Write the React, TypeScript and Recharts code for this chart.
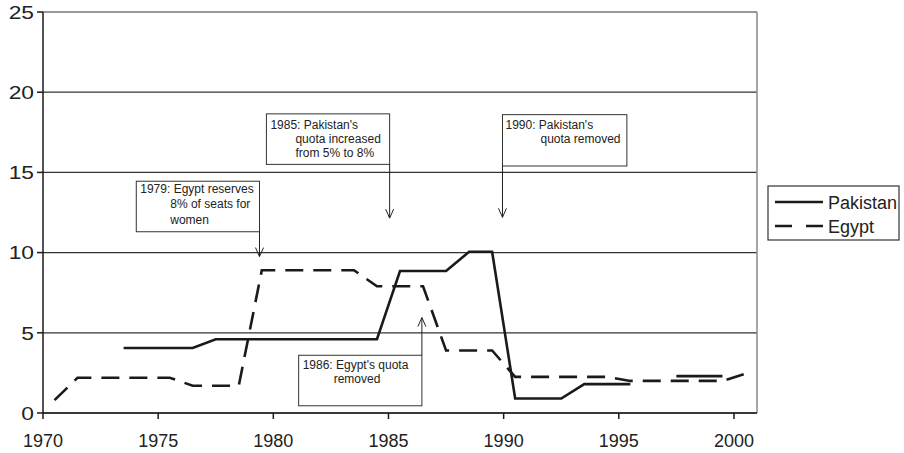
import React from "react";
import { LineChart, Line, XAxis, YAxis, CartesianGrid, ReferenceLine } from "recharts";

const years = [
  1970, 1971, 1972, 1973, 1974, 1975, 1976, 1977, 1978, 1979,
  1980, 1981, 1982, 1983, 1984, 1985, 1986, 1987, 1988, 1989,
  1990, 1991, 1992, 1993, 1994, 1995, 1996, 1997, 1998, 1999, 2000,
];
const pakistan: (number | null)[] = [
  null, null, null, 4.05, 4.05, 4.05, 4.05, 4.6, 4.6, 4.6,
  4.6, 4.6, 4.6, 4.6, 4.6, 8.85, 8.85, 8.85, 10.05, 10.05,
  0.9, 0.9, 0.9, 1.8, 1.8, 1.8, null, 2.3, 2.3, 2.3, null,
];
const egypt: (number | null)[] = [
  0.8, 2.2, 2.2, 2.2, 2.2, 2.2, 1.7, 1.7, 1.7, 8.9,
  8.9, 8.9, 8.9, 8.9, 7.9, 7.9, 7.9, 3.9, 3.9, 3.9,
  2.25, 2.25, 2.25, 2.25, 2.25, 2.0, 2.0, 2.0, 2.0, 2.0, 2.45,
];
const xTicks = [1970, 1975, 1980, 1985, 1990, 1995, 2000];
const yTicks = [0, 5, 10, 15, 20, 25];
const seriesNames = ["Pakistan", "Egypt"];

type Annotation = {
  lines: string[];
  indents: number[];
  baselines: number[];
  x1: number; x2: number; yTop: number; yBot: number;
  arrowX: number; arrowFrom: number; arrowTo: number;
};
const annotations: Annotation[] = [
  {
    lines: ["1979: Egypt reserves", "8% of seats for", "women"],
    indents: [4, 34, 34], baselines: [12, 27, 43],
    x1: 1974.05, x2: 1979.4, yTop: 14.45, yBot: 11.3,
    arrowX: 1979.4, arrowFrom: 11.3, arrowTo: 9.75,
  },
  {
    lines: ["1985: Pakistan's", "quota increased", "from 5% to 8%"],
    indents: [4, 29, 29], baselines: [15, 29, 43],
    x1: 1979.7, x2: 1985.05, yTop: 18.65, yBot: 15.5,
    arrowX: 1985.05, arrowFrom: 15.5, arrowTo: 12.15,
  },
  {
    lines: ["1990: Pakistan's", "quota removed"],
    indents: [3, 38], baselines: [14, 28],
    x1: 1989.95, x2: 1995.35, yTop: 18.6, yBot: 15.4,
    arrowX: 1989.95, arrowFrom: 15.4, arrowTo: 12.2,
  },
  {
    lines: ["1986: Egypt's quota", "removed"],
    indents: [4, 35], baselines: [13.5, 27.5],
    x1: 1981.1, x2: 1986.45, yTop: 3.6, yBot: 0.45,
    arrowX: 1986.45, arrowFrom: 3.6, arrowTo: 5.95,
  },
];

const data = years.map((y, i) => ({
  x: y + 0.5,
  Pakistan: pakistan[i],
  Egypt: egypt[i],
}));

const W = 904;
const H = 453;
const MARGIN = { top: 12, right: 147, bottom: 0, left: 0 };
const Y_W = 43;
const X_H = 40;
const X_DOMAIN: [number, number] = [1970, 2001];
const Y_DOMAIN: [number, number] = [0, 25];
const PL = MARGIN.left + Y_W;
const PT = MARGIN.top;
const PW = W - MARGIN.right - PL;
const PH = H - MARGIN.bottom - X_H - PT;
const px = (v: number) => PL + ((v - X_DOMAIN[0]) / (X_DOMAIN[1] - X_DOMAIN[0])) * PW;
const py = (v: number) => PT + ((Y_DOMAIN[1] - v) / (Y_DOMAIN[1] - Y_DOMAIN[0])) * PH;

const FONT = "'Liberation Sans', Arial, sans-serif";
const INK = "#1a1a1a";

const YTick = (props: any) => {
  const { x, y, payload } = props;
  return (
    <g transform={`translate(${x},${y})`}>
      <text transform="scale(1.2,1)" textAnchor="end" dy="0.36em" fontSize={19} fill="#222" fontFamily={FONT}>
        {payload.value}
      </text>
    </g>
  );
};

const Arrow = ({ x, y1, y2 }: { x: number; y1: number; y2: number }) => {
  const dir = y2 > y1 ? 1 : -1;
  return (
    <g stroke="#222" strokeWidth={1} fill="none">
      <line x1={x} y1={y1} x2={x} y2={y2} />
      <polyline points={`${x - 4},${y2 - dir * 9} ${x},${y2} ${x + 4},${y2 - dir * 9}`} />
    </g>
  );
};

export default function App() {
  return (
    <div style={{ position: "absolute", left: 0, top: 0, width: W, height: H, background: "#fff" }}>
      <LineChart width={W} height={H} data={data} margin={MARGIN}>
        <CartesianGrid horizontal vertical={false} stroke="#333" strokeWidth={1.2} />
        <XAxis
          dataKey="x"
          type="number"
          domain={X_DOMAIN}
          ticks={xTicks}
          allowDataOverflow
          height={X_H}
          tickSize={6}
          tickMargin={15}
          stroke={INK}
          strokeWidth={1.5}
          tick={{ fontSize: 18, fill: "#222", fontFamily: FONT }}
        />
        <YAxis
          type="number"
          domain={Y_DOMAIN}
          ticks={yTicks}
          width={Y_W}
          tickSize={6}
          tickMargin={3}
          stroke={INK}
          strokeWidth={1.5}
          tick={<YTick />}
        />
        <ReferenceLine x={2001} stroke="#888" strokeWidth={1.5} ifOverflow="visible" />
        <Line
          type="linear"
          dataKey="Pakistan"
          name={seriesNames[0]}
          stroke={INK}
          strokeWidth={2.6}
          dot={false}
          connectNulls={false}
          isAnimationActive={false}
        />
        <Line
          type="linear"
          dataKey="Egypt"
          name={seriesNames[1]}
          stroke={INK}
          strokeWidth={2.6}
          strokeDasharray="18 10"
          dot={false}
          connectNulls={false}
          isAnimationActive={false}
        />
      </LineChart>
      <svg
        width={W}
        height={H}
        style={{ position: "absolute", left: 0, top: 0, pointerEvents: "none" }}
        fontFamily={FONT}
      >
        {annotations.map((a, i) => {
          const bx = px(a.x1);
          const by = py(a.yTop);
          const bw = px(a.x2) - bx;
          const bh = py(a.yBot) - by;
          return (
            <g key={i}>
              <rect x={bx} y={by} width={bw} height={bh} fill="#fff" stroke="#333" strokeWidth={1} />
              {a.lines.map((t, j) => (
                <text key={j} x={bx + a.indents[j]} y={by + a.baselines[j]} fontSize={12} fill="#222">
                  {t}
                </text>
              ))}
              <Arrow x={px(a.arrowX)} y1={py(a.arrowFrom)} y2={py(a.arrowTo)} />
            </g>
          );
        })}
        <g>
          <rect x={768} y={186} width={131} height={54} fill="#fff" stroke="#333" strokeWidth={1.2} />
          <line x1={775} y1={202} x2={823} y2={202} stroke={INK} strokeWidth={2.6} />
          <text x={828} y={209} fontSize={18} fill="#222">{seriesNames[0]}</text>
          <line x1={775} y1={226} x2={823} y2={226} stroke={INK} strokeWidth={2.6} strokeDasharray="17 14" />
          <text x={828} y={233} fontSize={18} fill="#222">{seriesNames[1]}</text>
        </g>
      </svg>
    </div>
  );
}
